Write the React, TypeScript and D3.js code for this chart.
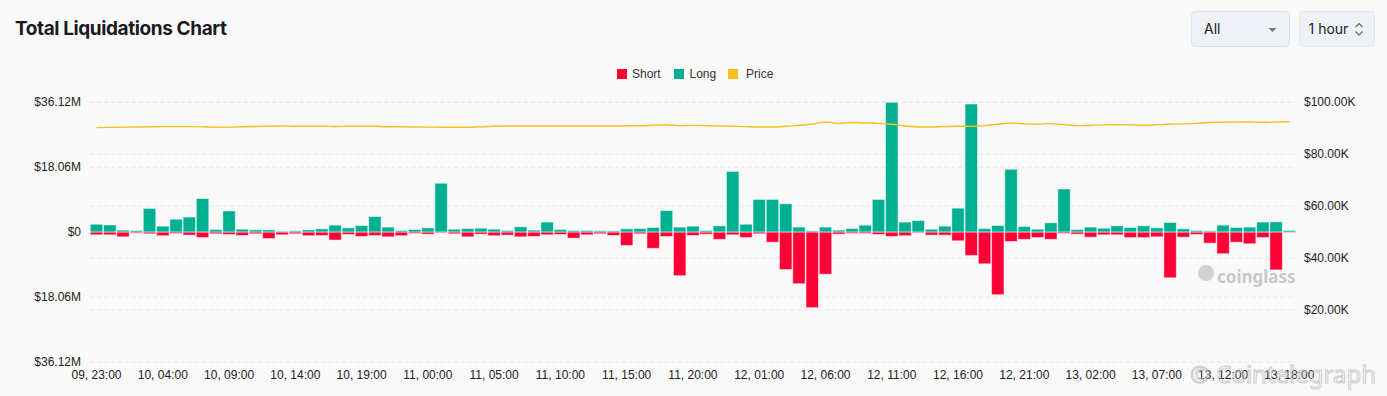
import React from "react";
import * as d3 from "d3";

const longs: number[] = [2.2,2.0,0.56,0.46,6.6,1.67,3.6,4.2,9.35,0.74,5.9,0.83,0.65,0.65,0.28,0.37,0.65,0.93,1.95,1.2,1.85,4.35,1.4,0.46,0.74,1.2,13.6,0.83,1.0,1.1,0.83,0.46,1.5,0.56,2.8,0.74,0.46,0.46,0.37,0.37,0.93,1.0,1.3,6.0,1.4,1.67,0.46,1.76,16.9,2.2,9.1,9.1,7.9,1.4,0.37,1.4,0.56,1.0,1.95,9.1,36.12,2.8,3.24,0.83,1.67,6.67,35.65,1.0,1.85,17.5,1.57,0.83,2.6,12.0,0.74,1.4,1.1,1.76,1.3,1.76,1.2,2.7,0.93,0.46,0.37,1.95,1.3,1.4,2.8,2.87,0.46];

const shorts: number[] = [0.74,0.74,1.3,0.28,0.46,1.0,0.37,0.83,1.5,0.46,0.65,0.93,0.46,1.76,0.74,0.46,1.0,0.93,2.2,0.65,1.2,0.93,1.3,1.0,0.37,0.56,0.19,0.46,1.3,0.56,1.0,0.83,1.3,1.2,0.74,0.65,1.67,0.74,0.46,0.93,3.7,0.46,4.5,1.2,12.1,0.93,0.56,2.0,0.74,1.5,0.46,2.8,10.4,14.35,21.0,11.7,0.56,0.37,0.37,0.65,1.2,1.0,0.19,0.83,0.83,2.4,6.5,8.8,17.4,2.6,2.0,1.5,2.0,0.37,0.56,1.4,0.74,0.74,1.5,1.5,1.3,12.7,1.4,0.65,3.06,6.0,2.8,3.24,1.5,10.5,0.1];

const prices: number[] = [90.26,90.35,90.45,90.5,90.55,90.62,90.64,90.62,90.55,90.4,90.45,90.6,90.7,90.8,90.85,90.8,90.75,90.75,90.7,90.75,90.8,90.75,90.6,90.55,90.5,90.45,90.4,90.4,90.4,90.55,90.75,90.85,90.9,90.9,90.85,90.9,90.85,90.9,90.9,90.85,90.95,90.95,91.2,91.35,91.0,91.1,91.0,90.9,90.75,90.65,90.5,90.5,90.75,91.15,91.55,92.44,91.9,92.2,92.05,91.9,91.55,90.9,90.5,90.5,90.64,90.75,90.75,91.0,91.55,92.05,91.7,91.55,91.8,91.4,91.0,91.15,91.3,91.4,91.3,91.15,91.4,91.55,91.7,91.9,92.2,92.3,92.44,92.44,92.3,92.44,92.56];

const xTickLabels: string[] = ["09, 23:00","10, 04:00","10, 09:00","10, 14:00","10, 19:00","11, 00:00","11, 05:00","11, 10:00","11, 15:00","11, 20:00","12, 01:00","12, 06:00","12, 11:00","12, 16:00","12, 21:00","13, 02:00","13, 07:00","13, 12:00","13, 18:00"];

const leftTicks: number[] = [-36.12, -18.06, 0, 18.06, 36.12];
const rightTicks: number[] = [20, 40, 60, 80, 100];

const W = 1387;
const H = 396;
const RED = "#ff0036";
const GREEN = "#01b091";
const YELLOW = "#f6c01b";
const FONT = "'Liberation Sans', Arial, sans-serif";

export default function App() {
  const idx = d3.range(longs.length);
  const x = d3.scaleBand<number>().domain(idx).range([89.9, 1296]).paddingInner(0.06).paddingOuter(0.03);
  const y = d3.scaleLinear().domain([-36.12, 36.12]).range([362, 102.3]);
  const yR = d3.scaleLinear().domain([0, 100]).range([362, 102.3]);
  const line = d3
    .line<number>()
    .x((_, i) => (x(i) as number) + x.bandwidth() / 2)
    .y((d) => yR(d))
    .curve(d3.curveMonotoneX);
  const fmtL = (v: number) => (v === 0 ? "$0" : "$" + Math.abs(v).toFixed(2) + "M");
  const fmtR = (v: number) => "$" + v.toFixed(2) + "K";
  const gridYs = [...leftTicks.map((t) => y(t)), ...rightTicks.map((t) => yR(t))];

  return (
    <svg width={W} height={H} style={{ position: "fixed", left: 0, top: 0, background: "#f9f9f9" }} fontFamily={FONT}>
      <rect x={0} y={0} width={W} height={H} fill="#f9f9f9" />
      <text x={15} y={35} fontFamily="Inter, 'Noto Sans', sans-serif" fontWeight={700} fontSize={19} letterSpacing={-0.4} fill="#1b1b1f">
        Total Liquidations Chart
      </text>

      {/* controls */}
      <rect x={1191.5} y={11.5} width={98} height={35} rx={4} fill="#eef2f6" stroke="#d3e6ea" />
      <text x={1204} y={34} fontFamily="Inter, 'Noto Sans', sans-serif" fontSize={14} fill="#222">All</text>
      <path d="M1268.5,28 L1276.5,28 L1272.5,32 Z" fill="#777" />
      <rect x={1299.5} y={11.5} width={75} height={35} rx={4} fill="#eef2f6" stroke="#e0e6ea" />
      <text x={1308.5} y={34} fontFamily="Inter, 'Noto Sans', sans-serif" fontSize={14} fill="#222">1 hour</text>
      <path d="M1355.5,27 L1359,23.5 L1362.5,27 M1355.5,31.5 L1359,35 L1362.5,31.5" fill="none" stroke="#666" strokeWidth={1.1} />

      {/* legend */}
      <rect x={617} y={69} width={10} height={10} fill={RED} />
      <text x={632} y={78} fontSize={12} fill="#333">Short</text>
      <rect x={674} y={69} width={10} height={10} fill={GREEN} />
      <text x={689.5} y={78} fontSize={12} fill="#333">Long</text>
      <rect x={728} y={69} width={10} height={10} fill={YELLOW} />
      <text x={746} y={78} fontSize={12} fill="#333">Price</text>

      {/* grid */}
      {gridYs.map((gy, i) => (
        <line key={"g" + i} x1={90} x2={1295} y1={gy} y2={gy} stroke="#e7e7e7" strokeDasharray="4,3" />
      ))}

      {/* left axis */}
      {leftTicks.map((t, i) => (
        <text key={"l" + i} x={81} y={y(t) + 4} fontSize={12} fill="#222" textAnchor="end">
          {fmtL(t)}
        </text>
      ))}
      {/* right axis */}
      {rightTicks.map((t, i) => (
        <text key={"r" + i} x={1304} y={yR(t) + 4} fontSize={12} fill="#222">
          {fmtR(t)}
        </text>
      ))}

      {/* bars */}
      {idx.map((i) => (
        <g key={"b" + i}>
          <rect x={x(i)} y={y(longs[i])} width={x.bandwidth()} height={y(0) - y(longs[i])} fill={GREEN} stroke="rgba(255,255,255,0.5)" strokeWidth={1} />
          <rect x={x(i)} y={y(0)} width={x.bandwidth()} height={y(-shorts[i]) - y(0)} fill={RED} stroke="rgba(255,255,255,0.5)" strokeWidth={1} />
        </g>
      ))}

      {/* price line */}
      <path d={line(prices) || ""} fill="none" stroke={YELLOW} strokeWidth={1.4} />

      {/* x labels */}
      {xTickLabels.map((lab, k) => {
        const i = k * 5;
        const cx = (x(i) as number) + x.bandwidth() / 2;
        return (
          <text key={"x" + k} x={cx} y={379} fontSize={12} fill="#222" textAnchor="middle">
            {lab}
          </text>
        );
      })}

      {/* watermarks */}
      <circle cx={1206} cy={273} r={8} fill="#d2d2d2" />
      <text x={1217} y={283} fontFamily="'Noto Sans', sans-serif" fontWeight={700} fontSize={17} fill="#c9c9c9">coinglass</text>
      <text x={1190} y={383} fontFamily="'Noto Sans', sans-serif" fontSize={24} fill="none" stroke="#bdbdbd" strokeWidth={1} opacity={0.75}>© Cointelegraph</text>
    </svg>
  );
}
